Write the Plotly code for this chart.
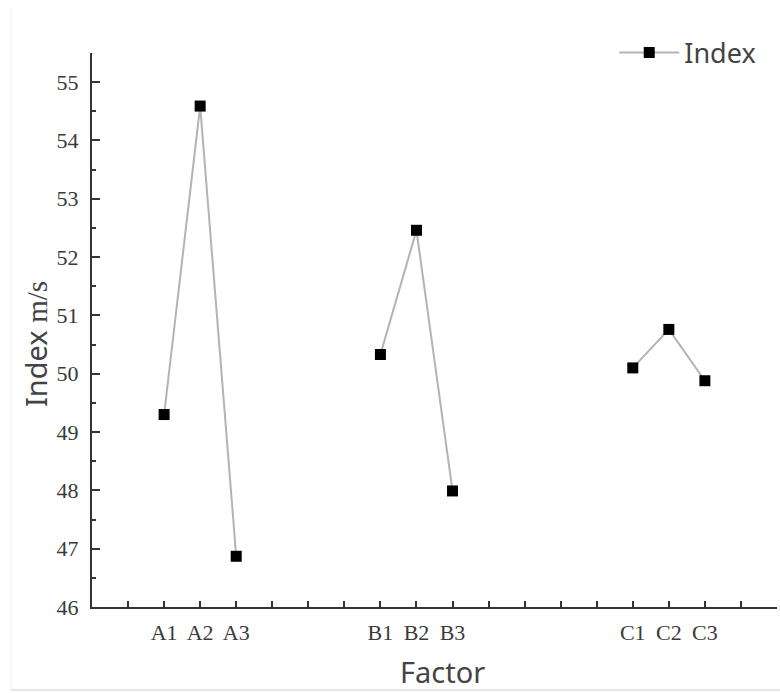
import plotly.graph_objects as go

# ---- data ----
groups = ["A", "B", "C"]
categories = ["A1", "A2", "A3", "B1", "B2", "B3", "C1", "C2", "C3"]
values = [49.30, 54.59, 46.87, 50.33, 52.46, 47.99, 50.10, 50.76, 49.88]
# tick slots along the factor axis (blank = unlabeled tick)
axis_slots = ["", "", "A1", "A2", "A3", "", "", "", "B1", "B2", "B3",
              "", "", "", "", "C1", "C2", "C3", "", ""]
y_ticks = [46, 47, 48, 49, 50, 51, 52, 53, 54, 55]

# build series with gaps between factor groups
xs, ys = [], []
for g in groups:
    for c, v in zip(categories, values):
        if c.startswith(g):
            xs.append(axis_slots.index(c))
            ys.append(v)
    xs.append(None)
    ys.append(None)

fig = go.Figure()
fig.add_trace(go.Scatter(
    x=xs, y=ys, mode="lines+markers", name="Index",
    line=dict(color="#b3b3b3", width=2),
    marker=dict(symbol="square", size=11, color="#000000"),
    connectgaps=False,
))

tick_font = dict(family="Liberation Serif", size=22, color="#3a3a3a")
title_font = dict(family="Noto Sans", size=29, color="#444")

fig.update_layout(
    width=780, height=693,
    margin=dict(l=92, r=3, t=53, b=86, autoexpand=False),
    paper_bgcolor="white", plot_bgcolor="white",
    showlegend=True,
    legend=dict(x=0.977, y=1.0, xanchor="right", yanchor="middle",
                itemwidth=60,
                font=dict(family="Noto Sans", size=27, color="#444"),
                bgcolor="rgba(0,0,0,0)"),
    xaxis=dict(
        range=[0, 19], tickmode="array",
        tickvals=list(range(len(axis_slots))), ticktext=axis_slots,
        ticks="inside", ticklen=6, tickwidth=2, tickcolor="#333",
        showline=True, linecolor="#333", linewidth=2,
        showgrid=False, zeroline=False, automargin=False,
        tickfont=tick_font, ticklabelstandoff=5,
    ),
    yaxis=dict(
        range=[46, 55.5], tickmode="array", tickvals=y_ticks,
        ticks="inside", ticklen=8, tickwidth=2, tickcolor="#333",
        minor=dict(ticks="inside", dtick=0.5, ticklen=4, tickwidth=2, tickcolor="#333"),
        showline=True, linecolor="#333", linewidth=2,
        showgrid=False, zeroline=False, automargin=False,
        tickfont=tick_font, ticklabelstandoff=7,
    ),
    annotations=[
        dict(text="Index <span style='font-family:Liberation Serif'>m/s</span>",
             xref="paper", yref="paper", x=-0.0832, y=0.4747,
             xanchor="center", yanchor="middle", textangle=-90,
             showarrow=False, font=title_font),
        dict(text="Factor", xref="paper", yref="paper", x=0.511, y=-0.1173,
             xanchor="center", yanchor="middle", showarrow=False, font=title_font),
    ],
    shapes=[
        dict(type="line", xref="paper", yref="paper", x0=-0.118, x1=-0.118, y0=-0.150, y1=1.083,
             line=dict(color="#ececec", width=1)),
        dict(type="line", xref="paper", yref="paper", x0=-0.118, x1=1.005, y0=-0.150, y1=-0.150,
             line=dict(color="#e6e6e6", width=2)),
    ],
)

fig.write_html("out.html", config={"displayModeBar": False},
               post_script="document.body.style.margin='0';document.body.style.overflow='hidden';")
